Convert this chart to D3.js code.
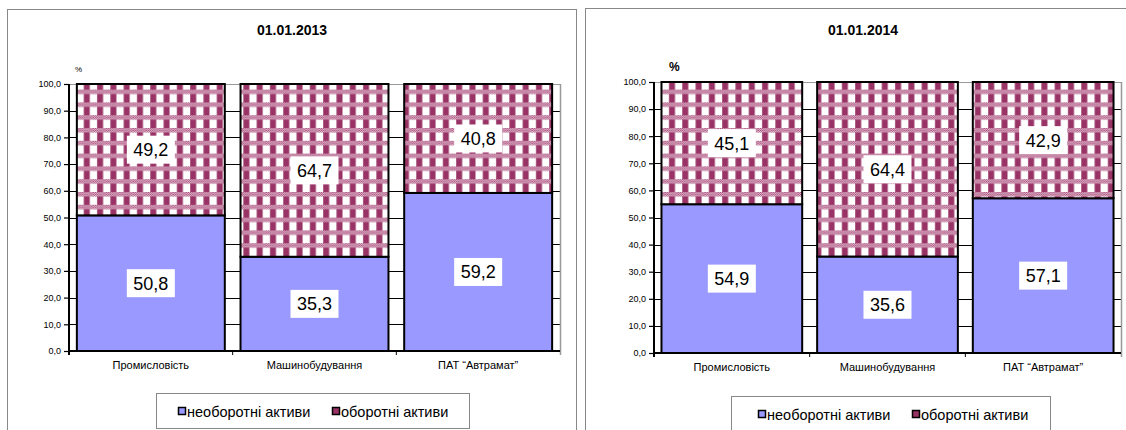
<!DOCTYPE html>
<html>
<head>
<meta charset="utf-8">
<script src="https://cdn.jsdelivr.net/npm/d3@7"></script>
<style>
  html, body { margin: 0; padding: 0; background: #fff; }
  svg { display: block; font-family: "Liberation Sans", Arial, sans-serif; }
</style>
</head>
<body>
<svg id="chart" width="1126" height="430"></svg>
<script>
// Asset structure (%), by sector
const categories = ["Промисловість", "Машинобудування", "ПАТ “Автрамат”"];
const seriesNames = ["необоротні активи", "оборотні активи"];
const titles = ["01.01.2013", "01.01.2014"];
const fixedAssets2013 = [50.8, 35.3, 59.2];
const currentAssets2013 = [49.2, 64.7, 40.8];
const fixedAssets2014 = [54.9, 35.6, 57.1];
const currentAssets2014 = [45.1, 64.4, 42.9];
const yTicks = [0, 10, 20, 30, 40, 50, 60, 70, 80, 90, 100];

const svg = d3.select("#chart");
const FIXED = "#9999ff";
const CURRENT = "#993366";

// Plaid fill for current assets
const defs = svg.append("defs");
const dots = defs.append("pattern").attr("id", "dots")
  .attr("patternUnits", "userSpaceOnUse").attr("width", 2).attr("height", 2);
dots.append("rect").attr("width", 2).attr("height", 2).attr("fill", "#f4dce8");
dots.append("rect").attr("x", 0).attr("y", 0).attr("width", 1).attr("height", 1).attr("fill", CURRENT);
dots.append("rect").attr("x", 1).attr("y", 1).attr("width", 1).attr("height", 1).attr("fill", CURRENT);

const plaid = defs.append("pattern").attr("id", "plaid")
  .attr("patternUnits", "userSpaceOnUse").attr("width", 13.3).attr("height", 12.8);
plaid.append("rect").attr("width", 13.3).attr("height", 12.8).attr("fill", "#fff");
plaid.append("rect").attr("x", 4).attr("y", 0).attr("width", 6).attr("height", 12.8).attr("fill", CURRENT);
plaid.append("rect").attr("x", 0).attr("y", 0).attr("width", 13.3).attr("height", 4.5).attr("fill", "url(#dots)");

// Outer panel frames
svg.append("rect").attr("x", 7.5).attr("y", 9.5).attr("width", 569).attr("height", 440)
  .attr("fill", "none").attr("stroke", "#888");
svg.append("rect").attr("x", 585.5).attr("y", 8.5).attr("width", 560).attr("height", 440)
  .attr("fill", "none").attr("stroke", "#888");

function drawPanel(cfg) {
  const g = svg.append("g");
  const x = d3.scaleBand().domain(categories).range([cfg.x0, cfg.x1])
    .paddingInner(0.096).paddingOuter(0.048);
  const y = d3.scaleLinear().domain([0, 100]).range([cfg.yBottom, cfg.yTop]);

  // Title
  g.append("text").attr("x", cfg.titleX).attr("y", 35).attr("text-anchor", "middle")
    .attr("font-size", 14).attr("font-weight", "bold").text(cfg.title);

  // Unit label
  g.append("text").attr("x", cfg.pctX).attr("y", cfg.pctY)
    .attr("font-size", cfg.pctSize).attr("font-weight", cfg.pctWeight).text("%");

  // Gridlines
  g.append("g").selectAll("line").data(yTicks.filter(d => d > 0)).join("line")
    .attr("x1", cfg.x0).attr("x2", cfg.x1)
    .attr("y1", d => Math.round(y(d)) + 0.5).attr("y2", d => Math.round(y(d)) + 0.5)
    .attr("stroke", d => d === 100 ? "#999" : "#000").attr("stroke-width", 1);
  // Right wall
  g.append("line").attr("x1", cfg.x1 + 0.5).attr("x2", cfg.x1 + 0.5)
    .attr("y1", cfg.yTop).attr("y2", cfg.yBottom + 4).attr("stroke", "#999").attr("stroke-width", 1.5);

  // Stacked bars
  const stacks = categories.map((c, i) => ({ c, lo: cfg.fixed[i], hi: cfg.current[i] }));
  const bars = g.append("g").selectAll("g").data(stacks).join("g");
  bars.append("rect")
    .attr("x", d => x(d.c)).attr("width", x.bandwidth())
    .attr("y", d => y(d.lo)).attr("height", d => y(0) - y(d.lo))
    .attr("fill", FIXED).attr("stroke", "#000").attr("stroke-width", 2);
  bars.append("rect")
    .attr("x", d => x(d.c)).attr("width", x.bandwidth())
    .attr("y", d => y(d.lo + d.hi)).attr("height", d => y(d.lo) - y(d.lo + d.hi))
    .attr("fill", "url(#plaid)").attr("stroke", "#000").attr("stroke-width", 2);

  // Value labels
  const labels = [];
  stacks.forEach(d => {
    labels.push({ c: d.c, v: d.lo, mid: d.lo / 2 });
    labels.push({ c: d.c, v: d.hi, mid: d.lo + d.hi / 2 });
  });
  const fmt = v => v.toFixed(1).replace(".", ",");
  const lab = g.append("g").selectAll("g").data(labels).join("g")
    .attr("transform", d => `translate(${x(d.c) + x.bandwidth() / 2},${y(d.mid)})`);
  lab.append("rect").attr("x", -24).attr("y", -14).attr("width", 48).attr("height", 28).attr("fill", "#fff");
  lab.append("text").attr("text-anchor", "middle").attr("dy", "0.36em")
    .attr("font-size", 18).attr("fill", "#000").text(d => fmt(d.v));

  // Y axis
  const yAxis = d3.axisLeft(y).tickValues(yTicks).tickSize(5).tickPadding(3)
    .tickFormat(d => d.toFixed(1).replace(".", ","));
  const ya = g.append("g").attr("transform", `translate(${cfg.x0},0)`).call(yAxis);
  ya.select(".domain").attr("stroke-width", 2).attr("d", `M0,${cfg.yTop}V${cfg.yBottom + 4}`);
  ya.selectAll(".tick line").attr("stroke-width", 1.2);
  ya.selectAll("text").attr("font-size", 9).attr("font-family", "Liberation Sans, Arial, sans-serif");

  // X axis
  const xa = g.append("g").attr("transform", `translate(0,${cfg.yBottom})`);
  xa.append("line").attr("x1", cfg.x0).attr("x2", cfg.x1).attr("stroke", "#000").attr("stroke-width", 2);
  const bounds = categories.map((c, i) => cfg.x0 + x.step() * (i + 1)).slice(0, -1);
  xa.selectAll("line.b").data(bounds).join("line").attr("class", "b")
    .attr("x1", d => d).attr("x2", d => d).attr("y1", 0).attr("y2", 4).attr("stroke", "#000");
  xa.selectAll("text").data(categories).join("text")
    .attr("x", d => x(d) + x.bandwidth() / 2).attr("y", 18).attr("text-anchor", "middle")
    .attr("font-size", 11).text(d => d);

  // Legend
  const lg = g.append("g");
  lg.append("rect").attr("x", cfg.lx + 0.5).attr("y", cfg.ly + 0.5)
    .attr("width", cfg.lw).attr("height", 35).attr("fill", "#fff").attr("stroke", "#888");
  const items = [{ name: seriesNames[0], fill: FIXED, dx: cfg.m1 }, { name: seriesNames[1], fill: CURRENT, dx: cfg.m2 }];
  const it = lg.selectAll("g").data(items).join("g")
    .attr("transform", d => `translate(${cfg.lx + d.dx},${cfg.ly + 14})`);
  it.append("rect").attr("x", 0.5).attr("y", 0.5).attr("width", 7).attr("height", 7)
    .attr("fill", d => d.fill).attr("stroke", "#000").attr("stroke-width", 1.5);
  it.append("text").attr("x", 9).attr("y", 9.5).attr("font-size", 14.5).text(d => d.name);
}

drawPanel({
  title: titles[0], titleX: 292, pctX: 75, pctY: 72, pctSize: 8, pctWeight: "normal",
  x0: 69, x1: 560, yTop: 84, yBottom: 351,
  fixed: fixedAssets2013, current: currentAssets2013,
  lx: 156, ly: 393, lw: 313, m1: 22, m2: 176
});
drawPanel({
  title: titles[1], titleX: 863, pctX: 669, pctY: 71, pctSize: 12, pctWeight: "bold",
  x0: 654, x1: 1121, yTop: 82, yBottom: 353,
  fixed: fixedAssets2014, current: currentAssets2014,
  lx: 731, ly: 396, lw: 319, m1: 27, m2: 181
});
</script>
</body>
</html>
